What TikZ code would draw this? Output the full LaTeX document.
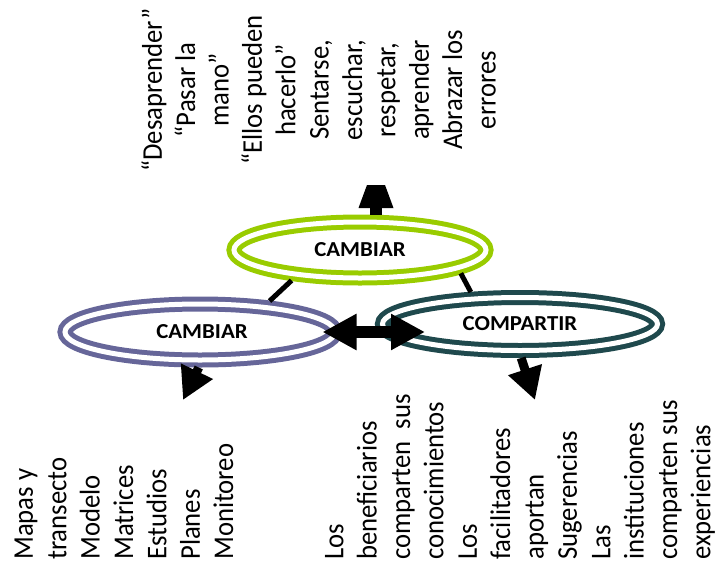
\documentclass[tikz,border=0pt]{standalone}
\usepackage{fontspec}
\setmainfont{Carlito}
\usepackage{xcolor}
\usepackage{tikz}
\usetikzlibrary{arrows.meta, shapes.geometric}

\definecolor{limegreen}{RGB}{153,204,0}
\definecolor{lavender}{RGB}{102,102,153}
\definecolor{darkteal}{RGB}{31,73,77}

\begin{document}
\begin{tikzpicture}[x=0.75pt, y=-0.75pt,
  ring/.style={ellipse, double, draw=#1, line width=3.75pt, double distance=3.75pt,
    outer sep=5.625pt, inner sep=0pt},
  tag/.style={font=\fontsize{16}{19}\selectfont\bfseries, xscale=1.07},
  link/.style={line width=3.75pt},
  blockarrow/.style={line width=6.75pt, -{Triangle[length=24pt, width=25pt]}},
  txt/.style={rotate=90, yscale=1.07, inner sep=0pt, font=\fontsize{20}{23.4}\selectfont}]

\useasboundingbox (0,0) rectangle (719,565);

% Ellipses
\node[ring=limegreen, minimum width=189pt, minimum height=42pt] (cambiarTop) at (360,250) {};
\node[ring=lavender, minimum width=202.5pt, minimum height=42pt] (cambiarLeft) at (200,332) {};
\node[ring=darkteal, minimum width=206.25pt, minimum height=39.75pt] (compartir) at (520,324) {};
\node[tag] (cambiarTopText) at (cambiarTop) {CAMBIAR};
\node[tag] (cambiarLeftText) at (202,332) {CAMBIAR};
\node[tag] (compartirText) at (compartir) {COMPARTIR};

% Links between ellipses
\draw[link] (cambiarLeft.24) -- (cambiarTop.204);
\draw[link] (cambiarTop.347) -- (compartir.147);
\draw[line width=9pt, {Triangle[length=25.5pt, width=25.5pt]}-{Triangle[length=25.5pt, width=25.5pt]}]
  ([xshift=-15pt]cambiarLeft.east) -- ([xshift=37.5pt]compartir.west |- cambiarLeft.east);

% Arrow up
\coordinate (upTip) at (376,185);
\draw[line width=9pt] ([xshift=12pt]cambiarTop.north) -- ([yshift=-17pt]upTip);
\fill (upTip) ++(-6.75pt,0) -- ++(13.5pt,0) -- ++(6.375pt,-17.25pt) -- ++(-26.25pt,0) -- cycle;

% Arrows down
\coordinate (leftTip) at (183,400);
\coordinate (rightTip) at (535,400);
\draw[blockarrow] (cambiarLeft.268) -- (leftTip);
\draw[blockarrow] (compartir.272) -- (rightTip);

% Lists
\node[txt, align=center] (ideasList) at (318.5,90) {“Desaprender”\\“Pasar la\\mano”\\“Ellos pueden\\hacerlo”\\Sentarse,\\escuchar,\\respetar,\\aprender\\Abrazar los\\errores};
\node[txt, align=left, anchor=west] (toolsList) at (124,560) {Mapas y\\transecto\\Modelo\\Matrices\\Estudios\\Planes\\Monitoreo};
\node[txt, align=left, anchor=west] (sharingList) at (520,560) {Los\\beneficiarios\\comparten~~sus\\conocimientos\\Los\\facilitadores\\aportan\\Sugerencias\\Las\\instituciones\\comparten sus\\experiencias};

\end{tikzpicture}
\end{document}
